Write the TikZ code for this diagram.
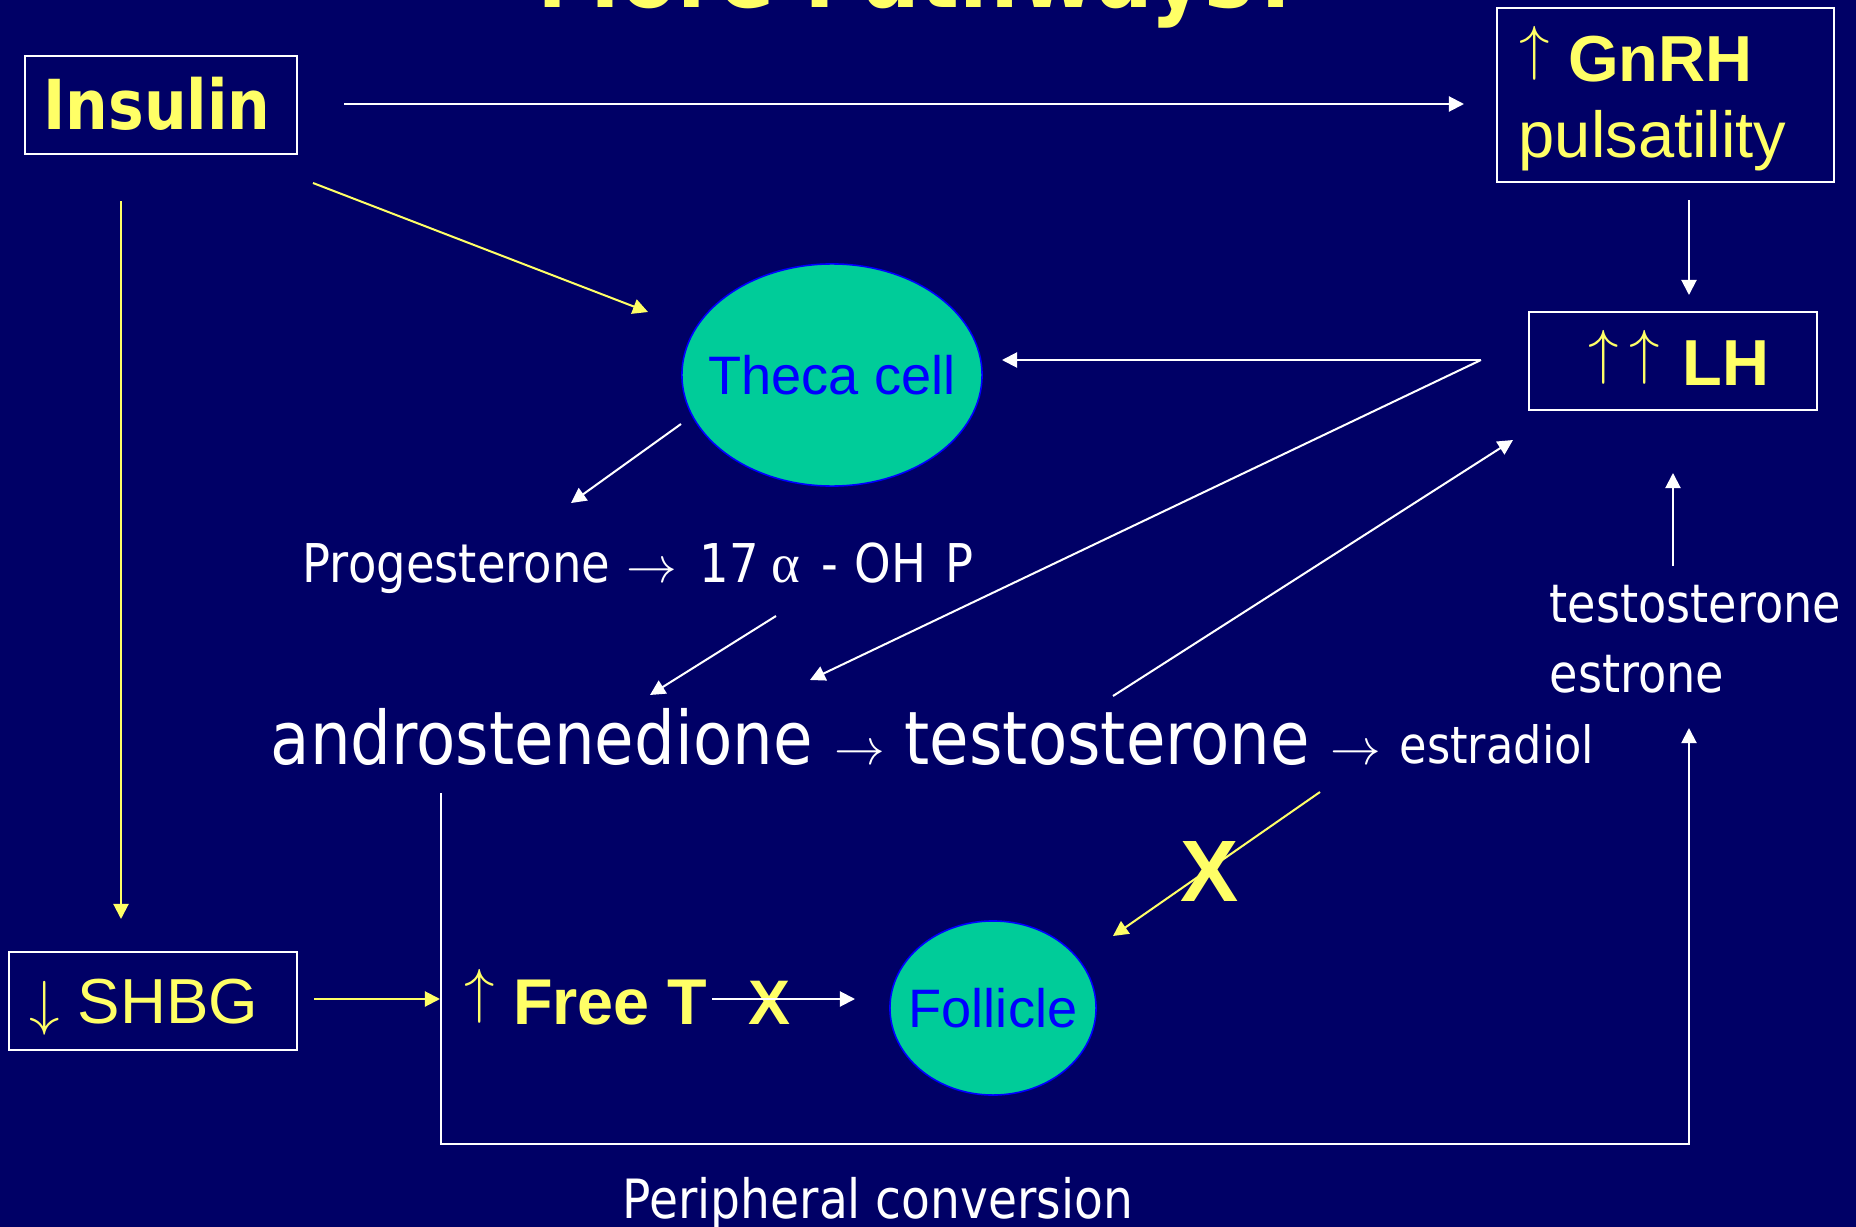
\documentclass[tikz,border=0pt]{standalone}
\usepackage{fontspec}
\usetikzlibrary{arrows.meta,shapes.geometric}
\newfontfamily\tah{DejaVu Sans}[FakeStretch=0.87]
\newfontfamily\ari{Liberation Sans}
\newfontfamily\serf{Liberation Serif}
\newcommand\myfs[1]{\fontsize{#1}{#1}\selectfont}
\newcommand\upar{\raisebox{0.194em}{$\uparrow$}}
\definecolor{bgnavy}{RGB}{0,0,102}
\definecolor{ylw}{RGB}{255,255,102}
\definecolor{cellgreen}{RGB}{0,204,153}
\definecolor{cellblue}{RGB}{0,0,255}
\begin{document}
\begin{tikzpicture}[x=0.01cm,y=-0.01cm,
  wline/.style={draw=white,line width=0.57pt},
  yline/.style={draw=ylw,line width=0.57pt},
  arr/.style={-{Triangle[length=4.3pt,width=4.3pt]}},
  boxy/.style={draw=white,line width=0.7pt,inner sep=0pt},
  cell/.style={ellipse,draw=cellblue,line width=0.45pt,fill=cellgreen,inner sep=0pt},
  lbl/.style={inner sep=0pt,anchor=base west},
  progf/.style={lbl,text=white,font=\tah\myfs{15.2pt}}
]
\useasboundingbox (0,0) rectangle (1856,1227);
\clip (0,0) rectangle (1856,1227);
\fill[bgnavy] (0,0) rectangle (1856,1227);

% title
\node[anchor=base,inner sep=0pt,text=ylw,font=\tah\bfseries\myfs{27.3pt}] (title) at (920,8) {More Pathways?};

% boxes
\node[boxy,minimum width=2.72cm,minimum height=0.98cm] (insulin) at (161,105) {};
\node[inner sep=0pt,text=ylw,font=\tah\bfseries\myfs{19.6pt}] (insulinT) at (157,104) {Insulin};

\node[boxy,minimum width=3.37cm,minimum height=1.74cm] (gnrh) at (1665.5,95) {};
\node[lbl,text=ylw,font=\ari\myfs{18.5pt}] (gnrhA) at (1519,81) {\upar{} \textbf{GnRH}};
\node[lbl,text=ylw,font=\ari\myfs{18.5pt}] (gnrhB) at (1518,157) {pulsatility};

\node[boxy,minimum width=2.88cm,minimum height=0.98cm] (lh) at (1673,361) {};
\node[lbl,text=ylw,font=\ari\myfs{18.5pt}] (lhT) at (1588,385) {\raisebox{0.194em}{$\uparrow\mkern3mu\uparrow$}\hspace{0.08em} \textbf{LH}};

\node[boxy,minimum width=2.88cm,minimum height=0.98cm] (shbg) at (153,1001) {};
\node[lbl,text=ylw,font=\ari\myfs{18.1pt}] (shbgT) at (29,1023) {$\downarrow$ SHBG};

% cells
\node[cell,minimum width=3.0cm,minimum height=2.22cm] (theca) at (832,375) {};
\node[inner sep=0pt,text=cellblue,font=\ari\myfs{15.4pt}] (thecaT) at (theca.center) {Theca cell};
\node[cell,minimum width=2.06cm,minimum height=1.74cm] (follicle) at (993,1008) {};
\node[inner sep=0pt,text=cellblue,font=\ari\myfs{15.4pt}] (follicleT) at (follicle.center) {Follicle};

% progesterone line
\node[progf] (prog) at (302,582) {Progesterone};
\node[progf] (progArr) at (626,582) {$\rightarrow$};
\node[progf] (prog17) at (699,582) {17};
\node[progf,font=\serf\myfs{15.6pt}] (progAlpha) at (771,582) {α};
\node[progf] (progDash) at (821,582) {-};
\node[progf] (progOH) at (854,582) {OH};
\node[progf] (progP) at (945,582) {P};

% main line
\node[lbl,text=white,font=\tah\myfs{21pt}] (andro) at (270,764) {androstenedione};
\node[lbl,text=white,font=\tah\myfs{14.2pt}] (arA) at (834,764) {$\rightarrow$};
\node[lbl,text=white,font=\tah\myfs{21pt}] (testo) at (904,764) {testosterone};
\node[lbl,text=white,font=\tah\myfs{14.2pt}] (arB) at (1330,764) {$\rightarrow$};
\node[lbl,text=white,font=\tah\myfs{14.6pt}] (estradiol) at (1399,763) {estradiol};
\node[lbl,text=white,font=\tah\myfs{15.1pt}] (testoR) at (1549,622) {testosterone};
\node[lbl,text=white,font=\tah\myfs{15.1pt}] (estrone) at (1549,692) {estrone};
\node[lbl,text=white,font=\tah\myfs{15.4pt}] (periph) at (622,1218) {Peripheral conversion};

% Free T
\node[lbl,text=ylw,font=\ari\myfs{18.4pt}] (freeT) at (464,1024) {\upar{} \textbf{Free T}};
\node[anchor=base,inner sep=0pt,text=ylw,font=\ari\bfseries\myfs{17.9pt}] (xA) at (769,1024) {X};
\node[anchor=base,inner sep=0pt,text=ylw,font=\ari\bfseries\myfs{24.8pt}] (xB) at (1210,901) {X};

% connector end points
\coordinate (insR) at (344,104);
\coordinate (gnrhL) at (1464,104);
\coordinate (insD) at (313,183);
\coordinate (thecaIn) at (648,312);
\coordinate (insB) at (121,201);
\coordinate (shbgTop) at (121,919);
\coordinate (gnrhB2) at (1689,200);
\coordinate (lhTop) at (1689,295);
\coordinate (lhL) at (1481,360);
\coordinate (thecaR) at (1002,360);
\coordinate (androIn) at (810,680);
\coordinate (testoUp) at (1113,696);
\coordinate (lhIn) at (1513,440);
\coordinate (thecaOut) at (681,424);
\coordinate (progIn) at (571,503);
\coordinate (ohpOut) at (776,616);
\coordinate (androIn2) at (650,695);
\coordinate (estUp) at (1673,566);
\coordinate (lhBot) at (1673,473);
\coordinate (androDown) at (441,793);
\coordinate (loopBL) at (441,1144);
\coordinate (loopBR) at (1689,1144);
\coordinate (estrBot) at (1689,728);
\coordinate (shbgR) at (314,999);
\coordinate (freeIn) at (440,999);
\coordinate (freeOut) at (712,999);
\coordinate (follL) at (855,999);
\coordinate (testoDn) at (1320,792);
\coordinate (follIn) at (1113,936);

% connectors
\draw[wline,arr] (insR) -- (gnrhL);
\draw[yline,arr] (insD) -- (thecaIn);
\draw[yline,arr] (insB) -- (shbgTop);
\draw[wline,arr] (gnrhB2) -- (lhTop);
\draw[wline,arr] (lhL) -- (thecaR);
\draw[wline,arr] (lhL) -- (androIn);
\draw[wline,arr] (testoUp) -- (lhIn);
\draw[wline,arr] (thecaOut) -- (progIn);
\draw[wline,arr] (ohpOut) -- (androIn2);
\draw[wline,arr] (estUp) -- (lhBot);
\draw[wline,arr] (androDown) -- (loopBL) -- (loopBR) -- (estrBot);
\draw[yline,arr] (shbgR) -- (freeIn);
\draw[wline,arr] (freeOut) -- (follL);
\draw[yline,arr] (testoDn) -- (follIn);
\end{tikzpicture}
\end{document}
